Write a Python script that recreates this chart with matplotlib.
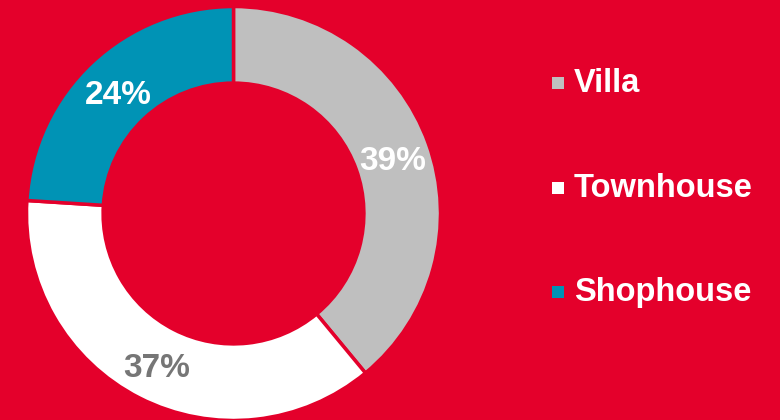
import numpy as np
import matplotlib.pyplot as plt
from matplotlib.patches import Rectangle

# data
categories = ['Villa', 'Townhouse', 'Shophouse']
shares = [39, 37, 24]
colors = ['#bfbfbf', '#ffffff', '#0093b5']
label_colors = ['white', '#767676', 'white']

bg = '#e4002b'

plt.rcParams['font.family'] = ['Liberation Sans', 'DejaVu Sans']

fig = plt.figure(figsize=(7.8, 4.2), dpi=100, facecolor=bg)

# donut axes: centre ~ (233.5, 213.5) px, radius ~206 px
W, H = 780, 420
cx, cy, r = 233.5, 213.5, 207
ax = fig.add_axes([(cx - r) / W, (H - cy - r) / H, 2 * r / W, 2 * r / H])
ax.set_facecolor(bg)

ring = 0.37
wedges, _ = ax.pie(shares, colors=colors, startangle=90, counterclock=False,
                   radius=1, wedgeprops=dict(width=ring, edgecolor=bg, linewidth=2.5))

# percentage labels in the middle of the ring
mid_r = 1 - ring / 2
for w, v, lc in zip(wedges, shares, label_colors):
    ang = np.deg2rad((w.theta1 + w.theta2) / 2)
    ax.text(mid_r * np.cos(ang), mid_r * np.sin(ang) - 5 / r, f'{v}%', ha='center', va='center',
            color=lc, fontsize=24, fontweight='bold')

ax.set_xlim(-1, 1)
ax.set_ylim(-1, 1)
ax.set_aspect('equal')
ax.axis('off')

# legend drawn by hand
leg_y = [83, 188, 292]
for name, c, y in zip(categories, colors, leg_y):
    fig.patches.append(Rectangle((552 / W, (H - y - 6) / H), 12 / W, 12 / H,
                                 transform=fig.transFigure, facecolor=c, edgecolor='none'))
    fig.text(574 / W, (H - y - 1) / H, name, ha='left', va='center', color='white',
             fontsize=23.5, fontweight='bold')

plt.savefig('out.png', dpi=100, facecolor=bg)
